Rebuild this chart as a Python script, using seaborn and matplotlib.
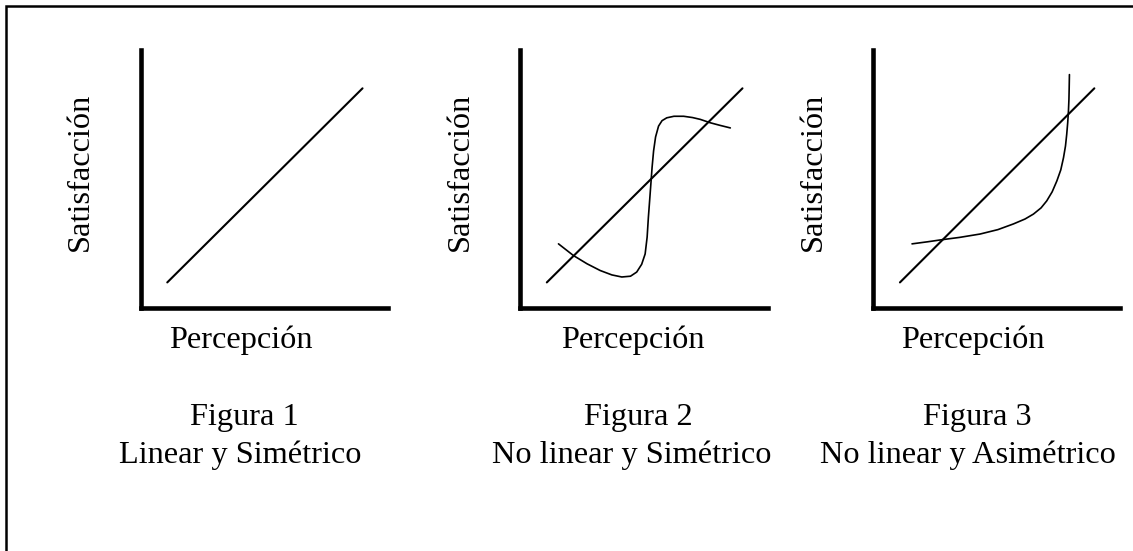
import numpy as np
import pandas as pd
import seaborn as sns
from matplotlib import pyplot as plt
from matplotlib.patches import Rectangle

# Reference diagonal (same in all three panels)
diag_x = [1.08, 8.96]
diag_y = [1.00, 8.50]

# Figura 2: S-shaped curve
s_x = [1.55, 2.15, 2.70, 3.23, 3.70, 4.10, 4.45, 4.70, 4.90, 5.04, 5.12, 5.17, 5.22, 5.27,
       5.32, 5.38, 5.46, 5.58, 5.72, 5.91, 6.20, 6.59, 6.95, 7.26, 7.66, 8.05, 8.47]
s_y = [2.49, 2.04, 1.72, 1.46, 1.29, 1.21, 1.24, 1.40, 1.70, 2.10, 2.75, 3.51, 4.15, 4.80,
       5.45, 6.08, 6.62, 7.04, 7.25, 7.36, 7.42, 7.42, 7.37, 7.30, 7.17, 7.07, 6.97]

# Figura 3: asymmetric curve
a_x = [1.57, 2.20, 2.78, 3.50, 4.33, 5.05, 5.68, 6.15, 6.49, 6.80, 7.03, 7.25, 7.44,
       7.60, 7.71, 7.79, 7.84, 7.88, 7.91, 7.93, 7.94, 7.95]
a_y = [2.49, 2.57, 2.65, 2.74, 2.87, 3.04, 3.26, 3.45, 3.64, 3.88, 4.15, 4.50, 4.92,
       5.35, 5.82, 6.27, 6.72, 7.17, 7.62, 8.07, 8.51, 9.03]

titles = ['Figura 1', 'Figura 2', 'Figura 3']
subtitles = ['Linear y Simétrico', 'No linear y Simétrico', 'No linear y Asimétrico']
xlabel = 'Percepción'
ylabel = 'Satisfacción'

sns.set_style('white')
plt.rcParams['font.family'] = ['Liberation Serif', 'DejaVu Serif']
plt.rcParams['text.color'] = 'black'

W, H = 1133, 551
fig = plt.figure(figsize=(W / 100, H / 100), dpi=100)

# outer frame (cut off at right and bottom)
fig.patches.append(Rectangle((6 / W, -0.2), 1.2, 1 - 6 / H + 0.2, transform=fig.transFigure,
                             fill=False, edgecolor='black', linewidth=1.8))

# panel layout in pixels: (left spine x, right end x), label positions
panels = [
    dict(left=140.5, right=388.3, ylab_x=80, xlab_x=241, cap_x=(244, 240)),
    dict(left=520.0, right=768.3, ylab_x=460, xlab_x=633, cap_x=(638, 632)),
    dict(left=873.3, right=1120.0, ylab_x=813, xlab_x=973, cap_x=(977, 968)),
]
top_px, bottom_px = 49.5, 308.3
fs = 23.3

curves = [None, (s_x, s_y), (a_x, a_y)]

for i, p in enumerate(panels):
    ax = fig.add_axes([p['left'] / W, 1 - bottom_px / H,
                       (p['right'] - p['left']) / W, (bottom_px - top_px) / H])
    diag = pd.DataFrame({'x': diag_x, 'y': diag_y})
    sns.lineplot(data=diag, x='x', y='y', color='black', linewidth=1.5, ax=ax)
    if curves[i] is not None:
        cx, cy = curves[i]
        sns.lineplot(x=cx, y=cy, sort=False, estimator=None, color='black', linewidth=1.2, ax=ax)
    ax.set_xlim(0, 10)
    ax.set_ylim(0, 10)
    ax.set_xticks([])
    ax.set_yticks([])
    ax.set_xlabel('')
    ax.set_ylabel('')
    ax.patch.set_alpha(0)
    sns.despine(ax=ax)
    for side in ['left', 'bottom']:
        ax.spines[side].set_linewidth(3.3)
        ax.spines[side].set_color('black')

    fig.text(p['xlab_x'] / W, 1 - 348 / H, xlabel, ha='center', va='baseline', fontsize=fs)
    fig.text(p['ylab_x'] / W, 1 - 172 / H, ylabel, ha='center', va='center',
             rotation=90, fontsize=fs)
    fig.text(p['cap_x'][0] / W, 1 - 425 / H, titles[i], ha='center', va='baseline', fontsize=fs)
    fig.text(p['cap_x'][1] / W, 1 - 463 / H, subtitles[i], ha='center', va='baseline', fontsize=fs)

fig.savefig('out.png', dpi=100)
